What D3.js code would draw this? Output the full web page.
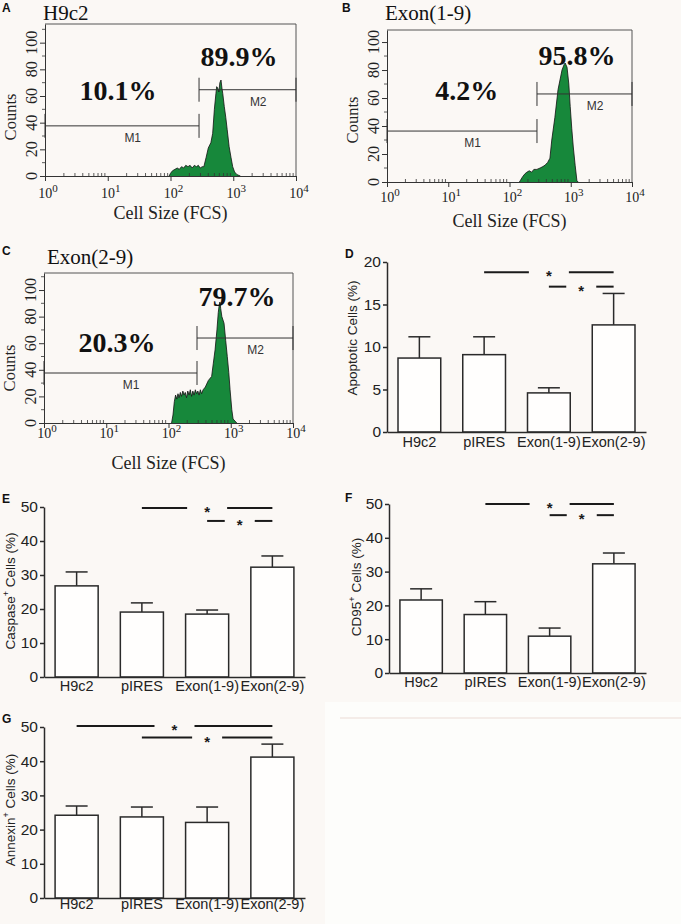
<!DOCTYPE html>
<html lang="en">
<head>
<meta charset="UTF-8">
<title>Cell size and apoptosis</title>
<style>
  body { margin: 0; background: #fbf8f5; }
  svg { display: block; }
</style>
</head>
<body>
<svg id="fig" width="681" height="924"></svg>
<script src="https://cdn.jsdelivr.net/npm/d3@7"></script>
<script>
// ---- flow cytometry histograms: [FCS value, counts]
const histA = [[95,0],[100,2],[108,4],[118,5],[128,6],[138,5],[150,7],[162,6],[175,8],[190,7],[205,8],[222,6],[240,8],[258,7],[278,8],[298,6],[320,7],[340,7],[370,14],[400,21],[440,25],[470,32],[500,50],[530,62],[544,67],[565,66],[590,63],[612,70],[638,72],[660,66],[680,62],[720,52],[760,44],[800,35],[860,22],[920,14],[980,7],[1050,3],[1150,1],[1300,0]];
const histB = [[145,0],[150,1],[165,4],[180,6],[192,7],[210,8],[230,7],[250,9],[280,9],[316,10],[350,11],[380,12],[420,14],[457,17],[490,30],[550,46],[620,66],[720,80],[780,84],[810,85],[870,82],[930,70],[980,54],[1040,38],[1100,25],[1180,12],[1260,1],[1320,0]];
const histC = [[112,0],[118,6],[124,16],[130,21],[136,18],[142,22],[148,19],[155,23],[162,20],[170,24],[178,21],[186,23],[195,19],[204,24],[214,21],[224,25],[235,20],[246,24],[258,21],[270,25],[283,22],[296,24],[310,21],[325,25],[340,22],[360,25],[390,27],[437,32],[493,35],[525,45],[560,55],[600,70],[630,83],[650,88],[670,91],[690,86],[720,80],[780,75],[830,62],[880,50],[930,38],[975,25],[1040,10],[1090,3],[1250,0]];
const histTitles = ["H9c2", "Exon(1-9)", "Exon(2-9)"];
const gateFCS = [285, 281, 287];
const m1Level = [37.6, 36.4, 37.6];
const m2Level = [64.7, 62.9, 63.9];
const m1Pct = ["10.1%", "4.2%", "20.3%"];
const m2Pct = ["89.9%", "95.8%", "79.7%"];
const countTicks = [0, 20, 40, 60, 80, 100];
const decadeTicks = [1, 10, 100, 1000, 10000];

// ---- bar charts
const categories = ["H9c2", "pIRES", "Exon(1-9)", "Exon(2-9)"];
const apoptoticMean = [8.7, 9.1, 4.6, 12.6];
const apoptoticSem = [2.5, 2.1, 0.6, 3.7];
const caspaseMean = [26.8, 19.1, 18.5, 32.3];
const caspaseSem = [4.1, 2.7, 1.2, 3.3];
const cd95Mean = [21.6, 17.3, 10.9, 32.3];
const cd95Sem = [3.3, 3.8, 2.4, 3.2];
const annexinMean = [24.2, 23.7, 22.1, 41.2];
const annexinSem = [2.7, 2.9, 4.5, 3.8];
// significance: [from index, to index, height]
const apoptoticSig = [[1, 3, 18.8], [2, 3, 17.1]];
const caspaseSig = [[1, 3, 49.7], [2, 3, 45.9]];
const cd95Sig = [[1, 3, 50.0], [2, 3, 46.7]];
const annexinSig = [[0, 3, 50.3], [1, 3, 46.9]];

const serif = '"Liberation Serif", "Times New Roman", serif';
const sans = '"Liberation Sans", Arial, sans-serif';
const green = "#17883b";
const ink = "#2a2a2a";

const svg = d3.select("#fig");
svg.append("rect").attr("width", 681).attr("height", 924).attr("fill", "#fbf8f5");
svg.append("rect").attr("x", 325).attr("y", 702).attr("width", 356).attr("height", 222).attr("fill", "#fdfdfb");
svg.append("line").attr("x1", 340).attr("x2", 681).attr("y1", 718).attr("y2", 718)
    .attr("stroke", "#f4ece8").attr("stroke-width", 2);

function panelLetter(t, x, y) {
    svg.append("text").attr("x", x).attr("y", y).text(t)
        .attr("font-family", sans).attr("font-weight", "bold").attr("font-size", 12).attr("fill", "#111");
}

// ---------------- histograms
const histPanels = [
    { i: 0, data: histA, letter: "A", lx: 2, ly: 12, left: 45, right: 296, top: 24, bottom: 176, yMax: 114,
      titleX: 43, titleY: 20, tickDy: 22, xlabDy: 43, countY: 117, p1: [14.6, 57], p2: [1240, 82.7] },
    { i: 1, data: histB, letter: "B", lx: 342, ly: 12, left: 387, right: 632, top: 30, bottom: 182, yMax: 108.6,
      titleX: 385, titleY: 20, tickDy: 20, xlabDy: 45, countY: 120, p1: [20, 58.6], p2: [1270, 83.6] },
    { i: 2, data: histC, letter: "C", lx: 2, ly: 255, left: 44, right: 293, top: 273, bottom: 423, yMax: 112.8,
      titleX: 47, titleY: 264, tickDy: 15, xlabDy: 46, countY: 368, p1: [14.9, 53.4], p2: [1260, 88] }
];

histPanels.forEach(p => {
    const g = svg.append("g");
    const x = d3.scaleLog().domain([1, 10000]).range([p.left, p.right]);
    const y = d3.scaleLinear().domain([0, p.yMax]).range([p.bottom, p.top]);

    panelLetter(p.letter, p.lx, p.ly);
    g.append("text").attr("x", p.titleX).attr("y", p.titleY).text(histTitles[p.i])
        .attr("font-family", serif).attr("font-size", 21).attr("fill", "#111");

    // histogram fill and outline
    const area = d3.area().x(d => x(d[0])).y0(y(0)).y1(d => y(d[1]));
    const line = d3.line().x(d => x(d[0])).y(d => y(d[1]));
    g.append("path").datum(p.data).attr("d", area).attr("fill", green);
    g.append("path").datum(p.data).attr("d", line).attr("fill", "none")
        .attr("stroke", "#111").attr("stroke-width", 0.8);

    // frame top + right
    g.append("path").attr("d", `M${p.left},${p.top}H${p.right}V${p.bottom}`)
        .attr("fill", "none").attr("stroke", "#555").attr("stroke-width", 1);

    // x axis
    const xa = g.append("g").attr("transform", `translate(0,${p.bottom})`)
        .call(d3.axisBottom(x).tickValues(decadeTicks).tickSize(5).tickSizeOuter(0).tickFormat(""));
    xa.select(".domain").attr("stroke", "#333");
    xa.selectAll(".tick line").attr("stroke", "#333");
    g.selectAll(".minor").data(x.ticks().filter(v => decadeTicks.indexOf(v) < 0)).enter()
        .append("line").attr("x1", d => x(d)).attr("x2", d => x(d))
        .attr("y1", p.bottom).attr("y2", p.bottom - 3).attr("stroke", "#333").attr("stroke-width", 0.8);
    decadeTicks.forEach(v => {
        const t = g.append("text").attr("x", x(v) + 3).attr("y", p.bottom + p.tickDy)
            .attr("text-anchor", "middle").attr("font-family", serif).attr("font-size", 14).attr("fill", "#222");
        t.append("tspan").text("10");
        t.append("tspan").text(Math.round(Math.log10(v))).attr("dy", -6).attr("font-size", 11);
    });
    g.append("text").attr("x", (p.left + p.right) / 2).attr("y", p.bottom + p.xlabDy)
        .attr("text-anchor", "middle").attr("font-family", serif).attr("font-size", 18).attr("fill", "#222")
        .text("Cell Size (FCS)");

    // y axis
    const ya = g.append("g").attr("transform", `translate(${p.left},0)`)
        .call(d3.axisLeft(y).tickValues(countTicks).tickSize(5).tickSizeOuter(0).tickFormat(""));
    ya.select(".domain").attr("stroke", "#333");
    ya.selectAll(".tick line").attr("stroke", "#333");
    g.selectAll(".yminor").data(y.ticks(12).filter(v => countTicks.indexOf(v) < 0)).enter()
        .append("line").attr("x1", p.left).attr("x2", p.left - 3)
        .attr("y1", d => y(d)).attr("y2", d => y(d)).attr("stroke", "#333").attr("stroke-width", 0.8);
    countTicks.forEach(v => {
        g.append("text").attr("transform", `translate(${p.left - 8},${y(v)}) rotate(-90)`)
            .attr("text-anchor", "middle").attr("font-family", serif).attr("font-size", 16).attr("fill", "#222")
            .text(v);
    });
    g.append("text").attr("transform", `translate(${p.left - 29},${p.countY}) rotate(-90)`)
        .attr("text-anchor", "middle").attr("font-family", serif).attr("font-size", 16.5).attr("fill", "#222")
        .text("Counts");

    // gates M1 / M2
    const gx = x(gateFCS[p.i]);
    const markers = [
        { a: x(1), b: gx, lv: m1Level[p.i], name: "M1", lab: 25 },
        { a: gx, b: x(10000), lv: m2Level[p.i], name: "M2", lab: 2500 }
    ];
    markers.forEach(m => {
        const yy = y(m.lv);
        g.append("line").attr("x1", m.a).attr("x2", m.b).attr("y1", yy).attr("y2", yy)
            .attr("stroke", "#333").attr("stroke-width", 1);
        [m.a, m.b].forEach(xx => {
            g.append("line").attr("x1", xx).attr("x2", xx).attr("y1", yy - 12).attr("y2", yy + 12)
                .attr("stroke", "#333").attr("stroke-width", 1);
        });
        g.append("text").attr("x", x(m.lab)).attr("y", yy + 16).attr("text-anchor", "middle")
            .attr("font-family", sans).attr("font-size", 12).attr("fill", "#333").text(m.name);
    });

    // percentages
    [[m1Pct[p.i], p.p1], [m2Pct[p.i], p.p2]].forEach(d => {
        g.append("text").attr("x", x(d[1][0])).attr("y", y(d[1][1])).attr("text-anchor", "middle")
            .attr("font-family", serif).attr("font-weight", "bold").attr("font-size", 28).attr("fill", "#111")
            .text(d[0]);
    });
});

// ---------------- bar charts
const barPanels = [
    { mean: apoptoticMean, sem: apoptoticSem, sig: apoptoticSig, max: 20, step: 5, label: "Apoptotic", sup: "",
      letter: "D", lx: 345, ly: 258, x0: 387, x1: 646, y0: 432, yTop: 262, labX: 357, labY: 338, catDy: 16 },
    { mean: caspaseMean, sem: caspaseSem, sig: caspaseSig, max: 50, step: 10, label: "Caspase", sup: "+",
      letter: "E", lx: 2, ly: 503, x0: 44, x1: 305, y0: 677, yTop: 507, labX: 15, labY: 591, catDy: 15 },
    { mean: cd95Mean, sem: cd95Sem, sig: cd95Sig, max: 50, step: 10, label: "CD95", sup: "+",
      letter: "F", lx: 345, ly: 502, x0: 389, x1: 646, y0: 673, yTop: 504, labX: 361, labY: 587, catDy: 15 },
    { mean: annexinMean, sem: annexinSem, sig: annexinSig, max: 50, step: 10, label: "Annexin", sup: "+",
      letter: "G", lx: 2, ly: 723, x0: 44, x1: 305, y0: 898, yTop: 727, labX: 15, labY: 810, catDy: 12 }
];

barPanels.forEach(p => {
    const g = svg.append("g");
    const x = d3.scaleBand().domain(categories).range([p.x0, p.x1]).paddingInner(0.34).paddingOuter(0.17);
    const y = d3.scaleLinear().domain([0, p.max]).range([p.y0, p.yTop]);
    const cx = c => x(c) + x.bandwidth() / 2;

    panelLetter(p.letter, p.lx, p.ly);

    // error bars (upper only)
    categories.forEach((c, i) => {
        const top = y(p.mean[i] + p.sem[i]);
        g.append("line").attr("x1", cx(c)).attr("x2", cx(c)).attr("y1", y(p.mean[i])).attr("y2", top)
            .attr("stroke", ink).attr("stroke-width", 1.5);
        g.append("line").attr("x1", cx(c) - 11).attr("x2", cx(c) + 11).attr("y1", top).attr("y2", top)
            .attr("stroke", ink).attr("stroke-width", 1.5);
    });

    g.selectAll(".bar").data(categories).enter().append("rect")
        .attr("x", c => x(c)).attr("width", x.bandwidth())
        .attr("y", (c, i) => y(p.mean[i])).attr("height", (c, i) => y(0) - y(p.mean[i]))
        .attr("fill", "#fffefd").attr("stroke", ink).attr("stroke-width", 1.5);

    // axes
    const ya = g.append("g").attr("transform", `translate(${p.x0},0)`)
        .call(d3.axisLeft(y).tickValues(d3.range(0, p.max + 1, p.step)).tickSize(4).tickPadding(2).tickSizeOuter(0));
    ya.select(".domain").attr("stroke", ink).attr("stroke-width", 1.5);
    ya.selectAll(".tick line").attr("stroke", ink).attr("stroke-width", 1.5);
    ya.selectAll(".tick text").attr("font-family", sans).attr("font-size", 15.5).attr("fill", "#222");

    const xa = g.append("g").attr("transform", `translate(0,${p.y0})`)
        .call(d3.axisBottom(x).tickSize(0).tickSizeOuter(0).tickPadding(p.catDy - 11));
    xa.select(".domain").attr("stroke", ink).attr("stroke-width", 1.5);
    xa.selectAll(".tick text").attr("font-family", sans).attr("font-size", 14.5).attr("fill", "#222");

    // y label
    const t = g.append("text").attr("transform", `translate(${p.labX},${p.labY}) rotate(-90)`)
        .attr("text-anchor", "middle").attr("font-family", sans).attr("font-size", 13.5).attr("fill", "#222");
    t.append("tspan").text(p.label);
    if (p.sup) {
        t.append("tspan").text(p.sup).attr("dy", -6).attr("font-size", 9);
        t.append("tspan").text(" Cells (%)").attr("dy", 6);
    } else {
        t.append("tspan").text(" Cells (%)");
    }

    // significance brackets
    p.sig.forEach((s, k) => {
        const xa0 = cx(categories[s[0]]), xb0 = cx(categories[s[1]]);
        const xm = (xa0 + xb0) / 2, yy = y(s[2]), gap = k === 0 ? 20 : 15;
        [[xa0, xm - gap], [xm + gap, xb0]].forEach(seg => {
            g.append("line").attr("x1", seg[0]).attr("x2", seg[1]).attr("y1", yy).attr("y2", yy)
                .attr("stroke", "#1a1a1a").attr("stroke-width", 2);
        });
        g.append("text").attr("x", xm).attr("y", yy + 9).attr("text-anchor", "middle")
            .attr("font-family", sans).attr("font-weight", "bold").attr("font-size", 15).attr("fill", "#1a1a1a")
            .text("*");
    });
});
</script>
</body>
</html>
